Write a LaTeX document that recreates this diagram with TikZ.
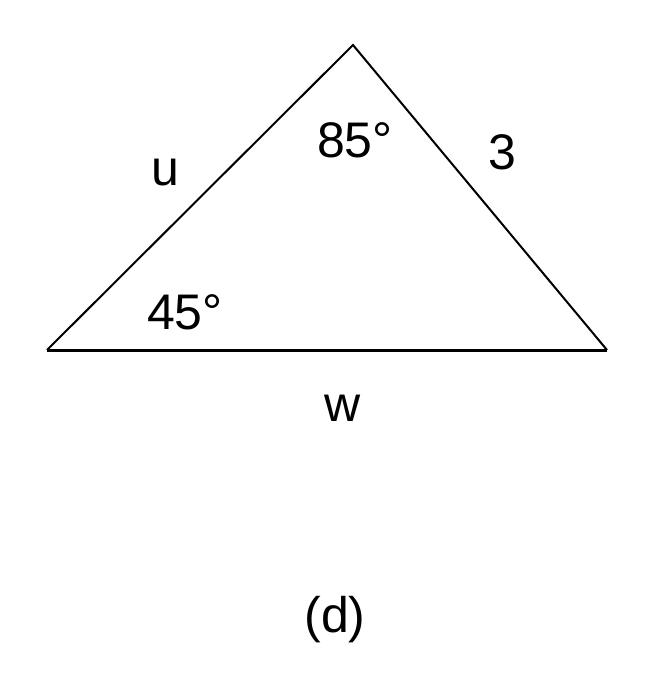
\documentclass[tikz,border=0pt]{standalone}
\usepackage{fontspec}
\setmainfont{Liberation Sans}
\begin{document}
\begin{tikzpicture}[x=1pt,y=-1pt,
  lbl/.style={anchor=base,inner sep=0pt,font=\fontsize{50}{60}\selectfont},
  edge/.style={line width=2pt,line join=miter},
  baseedge/.style={line width=3pt}]
\useasboundingbox (0,0) rectangle (654,683);
\coordinate (A) at (47,350);
\coordinate (B) at (353,45);
\coordinate (C) at (607,350);
\draw[edge] (A) -- (B) -- (C);
\draw[baseedge] (A) -- (C);
\node[lbl] (u) at (165,185) {u};
\node[lbl] (a85) at (355,157) {85°};
\node[lbl] (s3) at (502,169) {3};
\node[lbl] (a45) at (185,329) {45°};
\node[lbl] (w) at (343,421) {w};
\node[lbl] (d) at (335,632) {(d)};
\end{tikzpicture}
\end{document}
